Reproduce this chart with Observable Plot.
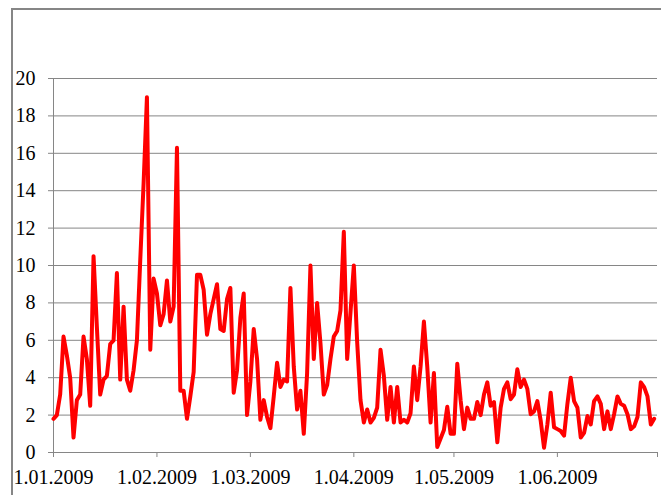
<!DOCTYPE html>
<html>
<head>
<meta charset="utf-8">
<script src="https://cdn.jsdelivr.net/npm/d3@7"></script>
<script src="https://cdn.jsdelivr.net/npm/@observablehq/plot@0.6"></script>
<style>
  html, body { margin: 0; padding: 0; background: #fff; }
  #wrap { position: relative; width: 661px; height: 495px; overflow: hidden; }
  #frame { position: absolute; left: 11px; top: 8px; right: -4px; bottom: -4px;
           border-left: 2px solid #868686; border-top: 2px solid #868686; pointer-events: none; }
</style>
</head>
<body>
<div id="wrap"><div id="frame"></div></div>
<script>
// Daily values, 1 Jan 2009 – 30 Jun 2009
const janVals = [1.8,2.0,3.1,6.2,5.2,4.0,0.8,2.8,3.1,6.2,5.0,2.5,10.5,6.7,3.1,3.9,4.1,5.8,6.0,9.6,3.9,7.8,3.9,3.3,4.4,6.0,10.3,14.4,19.0,5.5,9.3];
const febVals = [8.5,6.8,7.4,9.2,7.0,7.8,16.3,3.3,3.3,1.8,3.0,4.3,9.5,9.5,8.7,6.3,7.4,8.2,9.0,6.6,6.5,8.2,8.8,3.2,4.4,7.2,8.5,2.0];
const marVals = [3.8,6.6,5.0,1.75,2.8,1.9,1.3,3.0,4.8,3.5,3.9,3.8,8.8,4.6,2.3,3.3,1.0,4.25,10.0,5.0,8.0,5.85,3.1,3.6,5.0,6.2,6.5,7.6,11.8,5.0,7.5];
const aprVals = [10.0,5.9,2.8,1.6,2.3,1.6,1.85,2.4,5.5,4.1,1.75,3.5,1.6,3.5,1.6,1.75,1.6,2.1,4.6,2.8,4.6,7.0,4.6,1.6,4.25,0.3,0.75,1.2,2.45,1.0];
const mayVals = [1.0,4.75,2.8,1.25,2.4,1.8,1.8,2.7,2.0,3.1,3.75,2.5,2.7,0.55,2.4,3.4,3.75,2.85,3.1,4.45,3.5,3.9,3.4,2.05,2.2,2.75,1.7,0.25,1.5,3.2,1.35];
const junVals = [1.25,1.15,0.9,2.6,4.0,2.75,2.4,0.8,1.05,1.95,1.5,2.75,3.0,2.6,1.25,2.2,1.25,2.05,3.0,2.6,2.5,2.05,1.25,1.4,1.9,3.75,3.5,3.0,1.5,1.8];

const xTickLabels = ["1.01.2009","1.02.2009","1.03.2009","1.04.2009","1.05.2009","1.06.2009"];
const yTicks = [0,2,4,6,8,10,12,14,16,18,20];

const startDate = new Date(Date.UTC(2009, 0, 1));
const allVals = [...janVals, ...febVals, ...marVals, ...aprVals, ...mayVals, ...junVals];
const data = allVals.map((v, i) => ({ date: d3.utcDay.offset(startDate, i), value: v }));
const monthTicks = d3.range(7).map(m => new Date(Date.UTC(2009, m, 1)));
const labelTicks = monthTicks.slice(0, 6).map((d, i) => ({ date: d, label: xTickLabels[i] }));
const grey = "#868686";
const serif = "Liberation Serif";

const chart = Plot.plot({
  width: 661,
  height: 495,
  marginLeft: 53,
  marginRight: 4,
  marginTop: 78,
  marginBottom: 43,
  x: { type: "utc", domain: [monthTicks[0], monthTicks[6]] },
  y: { domain: [0, 20] },
  marks: [
    Plot.gridY(yTicks.filter(t => t > 0), { stroke: grey, strokeOpacity: 1, strokeWidth: 1 }),
    Plot.ruleX([monthTicks[0]], { stroke: grey, strokeWidth: 1 }),
    Plot.ruleY([0], { stroke: grey, strokeWidth: 1 }),
    Plot.axisY(yTicks, { tickSize: 5, stroke: grey, tickFormat: () => "", label: null }),
    Plot.axisX(monthTicks, { tickSize: 5, stroke: grey, tickFormat: () => "", label: null }),
    Plot.text(yTicks, { y: d => d, text: d => String(d), frameAnchor: "left", textAnchor: "end", dx: -18,
      fontFamily: serif, fontSize: 20 }),
    Plot.text(labelTicks, { x: "date", text: "label", frameAnchor: "bottom", lineAnchor: "top", dy: 17,
      fontFamily: serif, fontSize: 20 }),
    Plot.lineY(data, { x: "date", y: "value", stroke: "#ff0000", strokeWidth: 4, strokeLinejoin: "round" })
  ]
});
chart.style.background = "transparent";
document.getElementById("wrap").prepend(chart);
</script>
</body>
</html>
